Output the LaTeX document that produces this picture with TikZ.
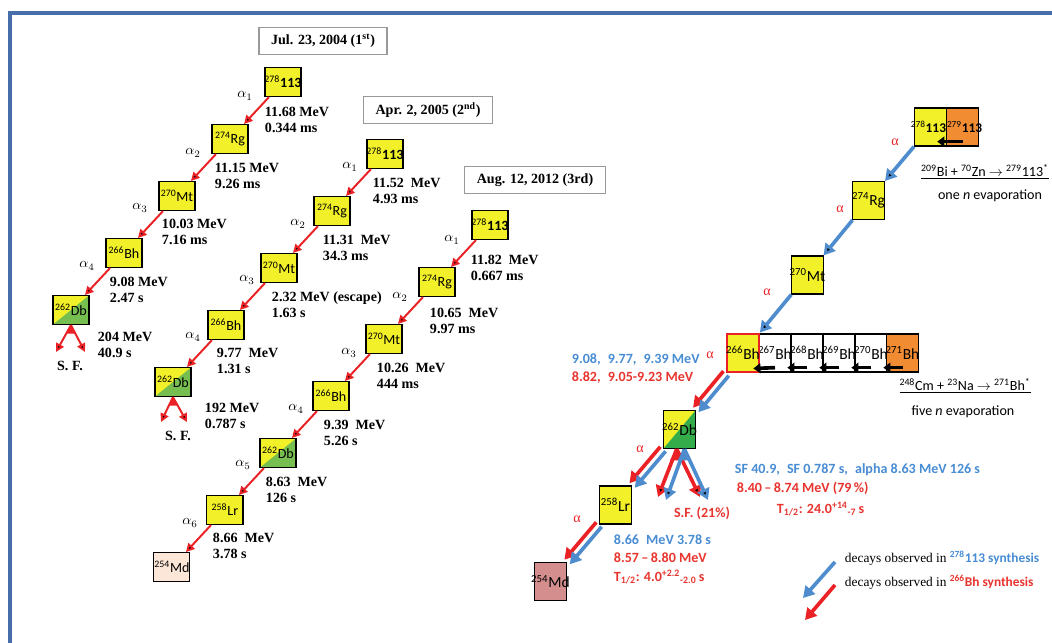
\documentclass[tikz,border=0pt]{standalone}
\usepackage{fontspec}
\setmainfont{Liberation Serif}
\newfontfamily\calib{Carlito}
\usepackage{tikz}
\usetikzlibrary{positioning, arrows.meta}

\definecolor{nyellow}{RGB}{242,240,40}
\definecolor{lgreen}{RGB}{118,190,80}
\definecolor{dgreen}{RGB}{52,172,74}
\definecolor{norange}{RGB}{242,140,50}
\definecolor{mdpeach}{RGB}{252,230,216}
\definecolor{mdrose}{RGB}{212,142,142}
\definecolor{ared}{RGB}{234,34,38}
\definecolor{ablue}{RGB}{78,140,206}
\definecolor{tred}{RGB}{232,52,46}
\definecolor{tblue}{RGB}{72,140,212}
\definecolor{frameblue}{RGB}{72,110,170}

\newcommand{\isot}[2]{\makebox[0pt]{\textsuperscript{#1}#2}}
\newcommand{\isotx}[3]{\makebox[0pt]{\hspace*{#3}\textsuperscript{#1}#2}}

\begin{document}
\begin{tikzpicture}[x=0.025cm,y=-0.025cm,>={Triangle[length=6pt,width=6pt]},
    node distance=1.425cm and 1.325cm,on grid,
    nucl node/.style={draw,thick,fill=nyellow,inner sep=0pt,minimum width=0.9cm,
        minimum height=0.725cm,font=\calib\fontsize{10}{12}\selectfont},
    db node/.style={nucl node,path picture={\fill[#1] (path picture bounding box.north east)
        -- (path picture bounding box.south east) -- (path picture bounding box.south west) -- cycle;}},
    db node/.default=lgreen,
    big node/.style={nucl node,minimum width=0.8cm,minimum height=0.95cm,
        font=\calib\fontsize{11}{13}\selectfont},
    date node/.style={draw=gray!80,thick,fill=white,inner xsep=0.3cm,minimum height=0.675cm,
        font=\fontsize{10}{12}\selectfont\bfseries},
    alpha lbl/.style={font=\fontsize{10}{12}\selectfont},
    en lbl/.style={anchor=west,align=left,font=\fontsize{10}{11.3}\selectfont\bfseries},
    red a/.style={font=\fontsize{10}{12}\selectfont,text=ared},
    info/.style={anchor=west,align=left,font=\calib\fontsize{10}{12.5}\selectfont\bfseries},
    decay/.style={->,draw=ared,line width=1.4pt},
    fat decay/.style={-{Triangle[length=8pt,width=9pt]},line width=2.6pt},
    n shift/.style={-{Triangle[length=5pt,width=7pt]},line width=2.6pt}]
    \useasboundingbox (0,0) rectangle (1052,643);
    \draw[frameblue,line width=2.2pt] (10,13) rectangle (1080,680);

    \node[date node] (d1) at (323,41) {Jul. 23, 2004 (1\textsuperscript{st})};
    \node[date node] (d2) at (428,110) {Apr. 2, 2005 (2\textsuperscript{nd})};
    \node[date node] (d3) at (535,180) {Aug. 12, 2012 (3rd)};

    \node[nucl node] (c1a) at (283,82) {\isot{278}{\textbf{113}}};
    \node[nucl node] (c1b) [below left=of c1a] {\isot{274}{Rg}};
    \node[nucl node] (c1c) [below left=of c1b] {\isot{270}{Mt}};
    \node[nucl node] (c1d) [below left=of c1c] {\isot{266}{Bh}};
    \node[db node] (c1e) [below left=of c1d] {\isot{262}{Db}};
    \coordinate (f1l) at (56,352);
    \coordinate (f1r) at (85,352);
    \path[decay]
    (c1a) edge (c1b)
    (c1b) edge (c1c)
    (c1c) edge (c1d)
    (c1d) edge (c1e)
    (c1e.south) edge (f1l)
    (c1e.south) edge (f1r);
    \node[alpha lbl] (a11) at (245,96) {$\alpha_1$};
    \node[alpha lbl] (a12) at (193,153) {$\alpha_2$};
    \node[alpha lbl] (a13) at (140,208) {$\alpha_3$};
    \node[alpha lbl] (a14) at (87,266) {$\alpha_4$};
    \node[en lbl] (e11) at (260,120) {11.68 MeV\\0.344 ms};
    \node[en lbl] (e12) at (210,176) {11.15 MeV\\9.26 ms};
    \node[en lbl] (e13) at (157,232) {10.03 MeV\\7.16 ms};
    \node[en lbl] (e14) at (105,290) {9.08 MeV\\2.47 s};
    \node[en lbl] (e15) at (93,345) {204 MeV\\40.9 s};
    \node[en lbl,anchor=center] (sf1) at (70,366) {S. F.};

    \node[nucl node] (c2a) at (385,154) {\isot{278}{\textbf{113}}};
    \node[nucl node] (c2b) [below left=of c2a] {\isot{274}{Rg}};
    \node[nucl node] (c2c) [below left=of c2b] {\isot{270}{Mt}};
    \node[nucl node] (c2d) [below left=of c2c] {\isot{266}{Bh}};
    \node[db node] (c2e) [below left=of c2d] {\isot{262}{Db}};
    \coordinate (f2l) at (161,422);
    \coordinate (f2r) at (187,422);
    \path[decay]
    (c2a) edge (c2b)
    (c2b) edge (c2c)
    (c2c) edge (c2d)
    (c2d) edge (c2e)
    (c2e.south) edge (f2l)
    (c2e.south) edge (f2r);
    \node[alpha lbl] (a21) at (350,167) {$\alpha_1$};
    \node[alpha lbl] (a22) at (298,224) {$\alpha_2$};
    \node[alpha lbl] (a23) at (247,280) {$\alpha_3$};
    \node[alpha lbl] (a24) at (193,337) {$\alpha_4$};
    \node[en lbl] (e21) at (368,191) {11.52\enspace MeV\\4.93 ms};
    \node[en lbl] (e22) at (318,248) {11.31\enspace MeV\\34.3 ms};
    \node[en lbl] (e23) at (267,305) {2.32 MeV (escape)\\1.63 s};
    \node[en lbl] (e24) at (212,361) {9.77\enspace MeV\\1.31 s};
    \node[en lbl] (e25) at (200,416) {192 MeV\\0.787 s};
    \node[en lbl,anchor=center] (sf2) at (178,436) {S. F.};

    \node[nucl node] (c3a) at (490,225) {\isot{278}{\textbf{113}}};
    \node[nucl node] (c3b) [below left=of c3a] {\isot{274}{Rg}};
    \node[nucl node] (c3c) [below left=of c3b] {\isot{270}{Mt}};
    \node[nucl node] (c3d) [below left=of c3c] {\isot{266}{Bh}};
    \node[db node] (c3e) [below left=of c3d] {\isot{262}{Db}};
    \node[nucl node] (c3f) [below left=of c3e] {\isot{258}{Lr}};
    \node[nucl node,fill=mdpeach] (c3g) [below left=of c3f] {\isot{254}{Md}};
    \path[decay]
    (c3a) edge (c3b)
    (c3b) edge (c3c)
    (c3c) edge (c3d)
    (c3d) edge (c3e)
    (c3e) edge (c3f)
    (c3f) edge (c3g);
    \node[alpha lbl] (a31) at (452,240) {$\alpha_1$};
    \node[alpha lbl] (a32) at (400,297) {$\alpha_2$};
    \node[alpha lbl] (a33) at (349,353) {$\alpha_3$};
    \node[alpha lbl] (a34) at (296,409) {$\alpha_4$};
    \node[alpha lbl] (a35) at (243,465) {$\alpha_5$};
    \node[alpha lbl] (a36) at (190,523) {$\alpha_6$};
    \node[en lbl] (e31) at (466,268) {11.82\enspace MeV\\0.667 ms};
    \node[en lbl] (e32) at (425,321) {10.65\enspace MeV\\9.97 ms};
    \node[en lbl] (e33) at (372,376) {10.26\enspace MeV\\444 ms};
    \node[en lbl] (e34) at (319,433) {9.39\enspace MeV\\5.26 s};
    \node[en lbl] (e35) at (261,490) {8.63\enspace MeV\\126 s};
    \node[en lbl] (e36) at (208,546) {8.66\enspace MeV\\3.78 s};

    \node[big node,font=\calib\fontsize{9.5}{11}\selectfont] (r113a) at (930.5,127) {\isotx{278}{\textbf{113}}{-3pt}};
    \node[big node,fill=norange,font=\calib\fontsize{9.5}{11}\selectfont] (r113b) at (962.5,127) {\isotx{279}{\textbf{113}}{3pt}};
    \node[big node] (rrg) at (868.5,200.5) {\isot{274}{Rg}};
    \node[big node] (rmt) at (807.5,275) {\isot{270}{Mt}};
    \node[big node,fill=white] (rbh7) at (775,353) {\isot{267}{Bh}};
    \node[big node,fill=white] (rbh8) at (807,353) {\isot{268}{Bh}};
    \node[big node,fill=white] (rbh9) at (839,353) {\isot{269}{Bh}};
    \node[big node,fill=white] (rbh0) at (871,353) {\isot{270}{Bh}};
    \node[big node,fill=norange] (rbh1) at (902.5,353) {\isot{271}{Bh}};
    \node[big node,draw=ared,line width=2pt] (rbh6) at (743,353) {\isot{266}{Bh}};
    \node[db node=dgreen,big node] (rdb) at (679.5,429.5) {\isot{262}{Db}};
    \node[big node] (rlr) at (615.5,505) {\isot{258}{Lr}};
    \node[big node,fill=mdrose] (rmd) at (550.5,581.5) {\isot{254}{Md}};

    \draw[n shift] ([yshift=3.5pt]r113b.south) -- ([xshift=-7pt,yshift=3.5pt]r113a.south east);
    \draw[n shift] ([yshift=3.5pt]rbh1.south) -- ([xshift=-3pt,yshift=3.5pt]rbh0.south east);
    \draw[n shift] ([yshift=3.5pt]rbh0.south) -- ([xshift=-3pt,yshift=3.5pt]rbh9.south east);
    \draw[n shift] ([yshift=3.5pt]rbh9.south) -- ([xshift=-3pt,yshift=3.5pt]rbh8.south east);
    \draw[n shift] ([yshift=3.5pt]rbh8.south) -- ([xshift=-3pt,yshift=3.5pt]rbh7.south east);
    \draw[n shift] ([yshift=3.5pt]rbh7.south) -- ([xshift=-5pt,yshift=3.5pt]rbh6.south east);

    \path[fat decay,draw=ablue]
    (r113a) edge (rrg)
    (rrg) edge (rmt)
    (rmt) edge (rbh6);
    \draw[fat decay,draw=ared,transform canvas={xshift=-1.9pt,yshift=1.6pt}] (rbh6) -- (rdb);
    \draw[fat decay,draw=ablue,transform canvas={xshift=1.9pt,yshift=-1.6pt}] (rbh6) -- (rdb);
    \draw[fat decay,draw=ared,transform canvas={xshift=-1.9pt,yshift=1.6pt}] (rdb) -- (rlr);
    \draw[fat decay,draw=ablue,transform canvas={xshift=1.9pt,yshift=-1.6pt}] (rdb) -- (rlr);
    \draw[fat decay,draw=ared,transform canvas={xshift=-1.9pt,yshift=1.6pt}] (rlr) -- (rmd);
    \draw[fat decay,draw=ablue,transform canvas={xshift=1.9pt,yshift=-1.6pt}] (rlr) -- (rmd);
    \coordinate (sr1) at (658,497);
    \coordinate (sr2) at (700,497);
    \coordinate (sb1) at (666,500);
    \coordinate (sb2) at (708,500);
    \path[fat decay,draw=ared]
    ([xshift=-2pt]rdb.south) edge (sr1)
    ([xshift=-2pt]rdb.south) edge (sr2);
    \path[fat decay,draw=ablue]
    ([xshift=3.5pt]rdb.south) edge (sb1)
    ([xshift=3.5pt]rdb.south) edge (sb2);

    \node[red a] (ra1) at (895,142) {α};
    \node[red a] (ra2) at (840,209) {α};
    \node[red a] (ra3) at (767,292) {α};
    \node[red a] (ra4) at (710,355) {α};
    \node[red a] (ra5) at (640,449) {α};
    \node[red a] (ra6) at (577,519) {α};

    \node[font=\calib\fontsize{10}{12}\selectfont] (reac1) at (985,172)
        {\underline{\textsuperscript{209}Bi + \textsuperscript{70}Zn $\rightarrow$ \textsuperscript{279}113\textsuperscript{*}}};
    \node[font=\calib\fontsize{10}{12}\selectfont] (evap1) at (990,196) {one \textit{n} evaporation};
    \node[font=\calib\fontsize{10}{12}\selectfont] (reac2) at (965,386)
        {\underline{\textsuperscript{248}Cm + \textsuperscript{23}Na $\rightarrow$ \textsuperscript{271}Bh\textsuperscript{*}}};
    \node[font=\calib\fontsize{10}{12}\selectfont] (evap2) at (963,412) {five \textit{n} evaporation};

    \node[info,text=tblue] (bhb) at (567,360) {9.08,\enspace 9.77,\enspace 9.39 MeV};
    \node[info,text=tred] (bhr) at (567,378) {8.82,\enspace 9.05-9.23 MeV};
    \node[info,text=tblue] (dbb) at (730,470) {SF 40.9,\enspace SF 0.787 s,\enspace alpha 8.63 MeV 126 s};
    \node[info,text=tred] (dbr) at (732,488) {8.40\,\textendash\,8.74 MeV (79\,\%)};
    \node[info,text=tred] (dbt) at (772,509) {T\textsubscript{1/2}: 24.0\textsuperscript{+14}\textsubscript{-7}\,s};
    \node[info,text=tred,anchor=center] (sfr) at (702,513) {S.F. (21\%)};
    \node[info,text=tblue] (lrb) at (609,540) {8.66\enspace MeV 3.78 s};
    \node[info,text=tred] (lrr) at (609,558) {8.57\,\textendash\,8.80 MeV};
    \node[info,text=tred] (lrt) at (609,577) {T\textsubscript{1/2}: 4.0\textsuperscript{+2.2}\textsubscript{-2.0}\,s};

    \coordinate (lb0) at (835,562);
    \coordinate (lb1) at (803,598);
    \coordinate (lr0) at (835,585);
    \coordinate (lr1) at (805,620);
    \draw[fat decay,draw=ablue] (lb0) -- (lb1);
    \draw[fat decay,draw=ared] (lr0) -- (lr1);
    \node[anchor=west,font=\fontsize{9.5}{11}\selectfont] (leg1) at (840,558)
        {decays observed in {\calib\bfseries\color{tblue}\textsuperscript{278}113 synthesis}};
    \node[anchor=west,font=\fontsize{9.5}{11}\selectfont] (leg2) at (840,582)
        {decays observed in {\calib\bfseries\color{tred}\textsuperscript{266}Bh synthesis}};
\end{tikzpicture}
\end{document}
